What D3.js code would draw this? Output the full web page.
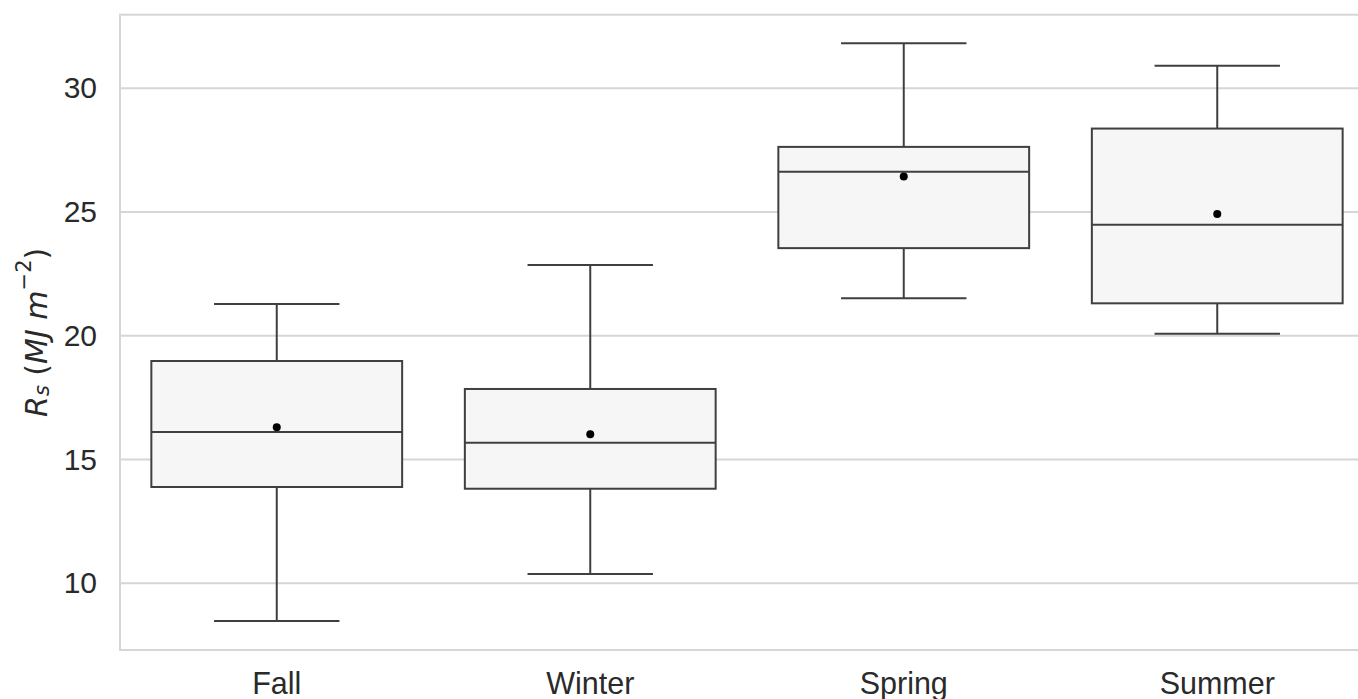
<!DOCTYPE html>
<html>
<head>
<meta charset="utf-8">
<script src="https://cdn.jsdelivr.net/npm/d3@7"></script>
<style>
  html, body { margin: 0; padding: 0; background: #fff; overflow: hidden; }
  svg { display: block; font-family: "Liberation Sans", Arial, Helvetica, sans-serif; }
</style>
</head>
<body>
<svg id="chart" width="1358" height="699"></svg>
<script>
// ---- data ----
const categories = ["Fall", "Winter", "Spring", "Summer"];
const whiskerLow  = [8.48, 10.38, 21.52, 20.08];
const q1          = [13.89, 13.82, 23.54, 21.31];
const median      = [16.11, 15.68, 26.63, 24.48];
const q3          = [18.98, 17.85, 27.63, 28.37];
const whiskerHigh = [21.28, 22.86, 31.82, 30.91];
const mean        = [16.30, 16.02, 26.43, 24.92];
const yTicks      = [10, 15, 20, 25, 30];

const rows = categories.map((c, i) => ({
  cat: c, lo: whiskerLow[i], q1: q1[i], med: median[i], q3: q3[i], hi: whiskerHigh[i], mean: mean[i]
}));

// ---- layout ----
const plotLeft = 120, plotRight = 1374, plotTop = 14.7, plotBottom = 650;
const svg = d3.select("#chart");

const x = d3.scaleBand().domain(categories).range([plotLeft, plotRight])
  .paddingInner(0.2).paddingOuter(0.1);
const y = d3.scaleLinear().domain([7.305, 32.97]).range([plotBottom, plotTop]);

const gridColor = "#d6d6d6";
const textColor = "#2a2a2a";
const boxStroke = "#3f3f3f";

// grid lines
svg.append("g").selectAll("line").data(yTicks).join("line")
  .attr("x1", plotLeft).attr("x2", plotRight)
  .attr("y1", d => y(d)).attr("y2", d => y(d))
  .attr("stroke", gridColor).attr("stroke-width", 2);

// spines
svg.append("rect")
  .attr("x", plotLeft).attr("y", plotTop)
  .attr("width", plotRight - plotLeft).attr("height", plotBottom - plotTop)
  .attr("fill", "none").attr("stroke", gridColor).attr("stroke-width", 2);

// y axis
const yAxis = d3.axisLeft(y).tickValues(yTicks).tickSize(0).tickPadding(23).tickFormat(d3.format("d"));
const gy = svg.append("g").attr("transform", `translate(${plotLeft},0)`).call(yAxis);
gy.select(".domain").remove();
gy.selectAll("text").attr("font-size", 30).attr("fill", textColor)
  .attr("font-family", "'Liberation Sans', Arial, sans-serif");

// x axis
const xAxis = d3.axisBottom(x).tickSize(0).tickPadding(22.5);
const gx = svg.append("g").attr("transform", `translate(0,${plotBottom})`).call(xAxis);
gx.select(".domain").remove();
gx.selectAll("text").attr("font-size", 30.5).attr("fill", textColor)
  .attr("font-family", "'Liberation Sans', Arial, sans-serif");

// boxes
const bw = x.bandwidth();
const g = svg.append("g").selectAll("g").data(rows).join("g");
const cx = d => x(d.cat) + bw / 2;

// whiskers
g.append("line").attr("x1", cx).attr("x2", cx)
  .attr("y1", d => y(d.q3)).attr("y2", d => y(d.hi))
  .attr("stroke", boxStroke).attr("stroke-width", 2);
g.append("line").attr("x1", cx).attr("x2", cx)
  .attr("y1", d => y(d.q1)).attr("y2", d => y(d.lo))
  .attr("stroke", boxStroke).attr("stroke-width", 2);
// caps
g.append("line").attr("x1", d => cx(d) - bw / 4).attr("x2", d => cx(d) + bw / 4)
  .attr("y1", d => y(d.hi)).attr("y2", d => y(d.hi))
  .attr("stroke", boxStroke).attr("stroke-width", 2);
g.append("line").attr("x1", d => cx(d) - bw / 4).attr("x2", d => cx(d) + bw / 4)
  .attr("y1", d => y(d.lo)).attr("y2", d => y(d.lo))
  .attr("stroke", boxStroke).attr("stroke-width", 2);
// box
g.append("rect")
  .attr("x", d => x(d.cat)).attr("width", bw)
  .attr("y", d => y(d.q3)).attr("height", d => y(d.q1) - y(d.q3))
  .attr("fill", "#f6f6f6").attr("stroke", boxStroke).attr("stroke-width", 2);
// median
g.append("line").attr("x1", d => x(d.cat)).attr("x2", d => x(d.cat) + bw)
  .attr("y1", d => y(d.med)).attr("y2", d => y(d.med))
  .attr("stroke", boxStroke).attr("stroke-width", 2);
// mean
g.append("circle").attr("cx", cx).attr("cy", d => y(d.mean)).attr("r", 4).attr("fill", "#000");

// y label
const lbl = svg.append("text")
  .attr("transform", `translate(36,${(plotTop + plotBottom) / 2}) rotate(-90)`)
  .attr("text-anchor", "middle")
  .attr("dominant-baseline", "central")
  .attr("font-size", 30).attr("fill", textColor)
  .attr("font-family", "'DejaVu Sans', sans-serif");
lbl.append("tspan").attr("font-style", "italic").text("R");
lbl.append("tspan").attr("font-style", "italic").attr("font-size", 21).attr("dy", 6).text("s");
lbl.append("tspan").attr("dy", -6).text(" (");
lbl.append("tspan").attr("font-style", "italic").text("MJ m");
lbl.append("tspan").attr("font-size", 21).attr("dy", -12).text("−2");
lbl.append("tspan").attr("dy", 12).text(")");
</script>
</body>
</html>
